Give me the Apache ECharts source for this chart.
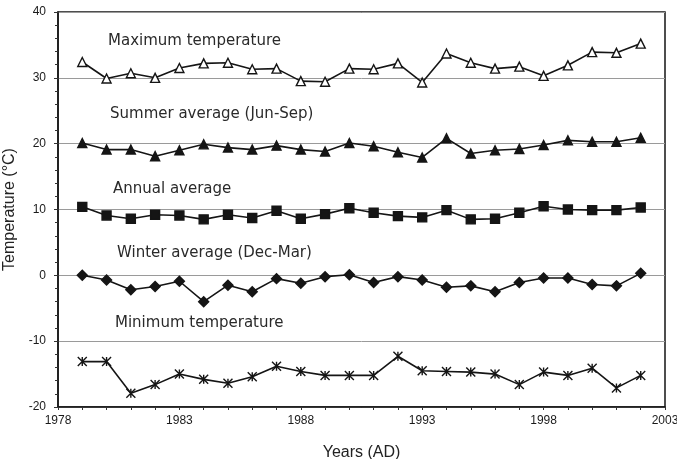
<!DOCTYPE html>
<html>
<head>
<meta charset="utf-8">
<script src="https://cdn.jsdelivr.net/npm/echarts@6/dist/echarts.min.js"></script>
<style>
  html, body { margin: 0; padding: 0; background: #fff; }
  #main { width: 677px; height: 459px; }
</style>
</head>
<body>
<div id="main"></div>
<script>
// axis categories 1978..2003, data from 1979 to 2002
const axisYears = [];
for (let y = 1978; y <= 2003; y++) axisYears.push(String(y));
const years = [1979, 1980, 1981, 1982, 1983, 1984, 1985, 1986, 1987, 1988, 1989, 1990,
               1991, 1992, 1993, 1994, 1995, 1996, 1997, 1998, 1999, 2000, 2001, 2002];

const maxTemp = [32.4, 29.9, 30.7, 30.0, 31.5, 32.2, 32.3, 31.3, 31.4, 29.5, 29.4, 31.4,
                 31.3, 32.2, 29.3, 33.7, 32.3, 31.4, 31.7, 30.3, 31.9, 33.9, 33.8, 35.2];
const summerAvg = [20.1, 19.1, 19.1, 18.1, 19.0, 19.9, 19.4, 19.1, 19.7, 19.1, 18.8, 20.1,
                   19.6, 18.7, 17.9, 20.8, 18.5, 19.0, 19.2, 19.8, 20.5, 20.3, 20.3, 20.9];
const annualAvg = [10.4, 9.1, 8.6, 9.2, 9.1, 8.5, 9.2, 8.7, 9.8, 8.6, 9.3, 10.2,
                   9.5, 9.0, 8.8, 9.9, 8.5, 8.6, 9.5, 10.5, 10.0, 9.9, 9.9, 10.3];
const winterAvg = [0.0, -0.7, -2.2, -1.7, -0.9, -4.0, -1.5, -2.5, -0.5, -1.2, -0.2, 0.1,
                   -1.1, -0.2, -0.7, -1.8, -1.6, -2.5, -1.1, -0.4, -0.4, -1.4, -1.6, 0.3];
const minTemp = [-13.1, -13.1, -17.9, -16.6, -15.0, -15.8, -16.4, -15.4, -13.8, -14.6, -15.2, -15.2,
                 -15.2, -12.3, -14.5, -14.6, -14.7, -15.0, -16.6, -14.7, -15.2, -14.1, -17.1, -15.2];

const seriesLabels = ['Maximum temperature', 'Summer average (Jun-Sep)', 'Annual average',
                      'Winter average (Dec-Mar)', 'Minimum temperature'];

const ink = '#151515';
const pairs = vals => vals.map((v, i) => [String(years[i]), v]);
const starPath = 'path://M0 0 L10 10 M10 0 L0 10 M5 0 L5 10';

function lineSeries(name, vals, symbol, fill, size) {
  return {
    name: name,
    type: 'line',
    data: pairs(vals),
    symbol: symbol,
    symbolSize: size,
    lineStyle: { color: ink, width: 1.6 },
    itemStyle: { color: fill, borderColor: ink, borderWidth: 1.4 },
    z: 3
  };
}

const chart = echarts.init(document.getElementById('main'));
const labelFont = { fontFamily: '"DejaVu Sans", sans-serif', fontSize: 15, fill: '#2a2a2a' };
const tickFont = { fontFamily: 'Liberation Sans, Arial, sans-serif', fontSize: 12, color: '#1a1a1a' };

chart.setOption({
  animation: false,
  backgroundColor: '#fff',
  grid: {
    left: 58, right: 12, top: 12, bottom: 52,
    outerBoundsMode: 'none', containLabel: false,
    show: true, borderColor: ink, borderWidth: 1.5
  },
  xAxis: {
    type: 'category',
    data: axisYears,
    boundaryGap: false,
    name: 'Years (AD)',
    nameLocation: 'middle',
    nameGap: 38,
    nameTextStyle: { fontFamily: 'Liberation Sans, Arial, sans-serif', fontSize: 16, color: '#222' },
    axisLine: { onZero: false, lineStyle: { color: ink, width: 1.5 } },
    axisTick: { show: true, interval: 0, length: 3, lineStyle: { color: '#333' } },
    axisLabel: Object.assign({ interval: 4, margin: 8 }, tickFont),
    splitLine: { show: false }
  },
  yAxis: {
    type: 'value',
    min: -20, max: 40, interval: 10,
    name: 'Temperature (°C)',
    nameLocation: 'middle',
    nameGap: 40,
    nameTextStyle: { fontFamily: 'Liberation Sans, Arial, sans-serif', fontSize: 16, color: '#222' },
    axisLine: { show: true, lineStyle: { color: ink, width: 1.5 } },
    axisTick: { show: true, length: 4, lineStyle: { color: '#333' } },
    minorTick: { show: true, splitNumber: 5, length: 3, lineStyle: { color: '#333' } },
    axisLabel: Object.assign({ margin: 12 }, tickFont),
    splitLine: { show: true, lineStyle: { color: '#9a9a9a', width: 1 } }
  },
  series: [
    lineSeries(seriesLabels[0], maxTemp, 'triangle', '#fff', 9),
    lineSeries(seriesLabels[1], summerAvg, 'triangle', ink, 9),
    lineSeries(seriesLabels[2], annualAvg, 'rect', ink, 9),
    lineSeries(seriesLabels[3], winterAvg, 'diamond', ink, 10),
    Object.assign(lineSeries(seriesLabels[4], minTemp, starPath, 'none', 9),
      { itemStyle: { color: 'none', borderColor: ink, borderWidth: 1.4 } })
  ],
  graphic: [
    { type: 'text', left: 108, top: 34, style: Object.assign({ text: seriesLabels[0] }, labelFont) },
    { type: 'text', left: 110, top: 107, style: Object.assign({ text: seriesLabels[1] }, labelFont) },
    { type: 'text', left: 113, top: 182, style: Object.assign({ text: seriesLabels[2] }, labelFont) },
    { type: 'text', left: 117, top: 246, style: Object.assign({ text: seriesLabels[3] }, labelFont) },
    { type: 'text', left: 115, top: 316, style: Object.assign({ text: seriesLabels[4] }, labelFont) }
  ]
});
</script>
</body>
</html>
